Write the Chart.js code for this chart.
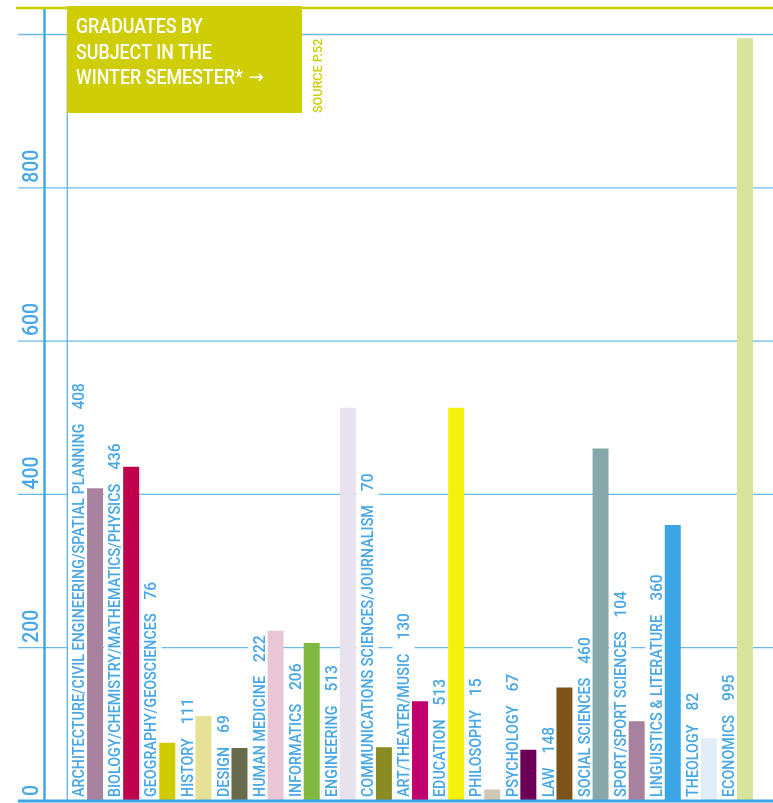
<!DOCTYPE html>
<html>
<head>
<meta charset="utf-8">
<script src="https://cdn.jsdelivr.net/npm/chart.js@4.4.1/dist/chart.umd.min.js"></script>
<style>
  html, body { margin: 0; padding: 0; background: #ffffff; }
  canvas { display: block; }
</style>
</head>
<body>
<canvas id="gradChart" width="773" height="803"></canvas>
<script>
// subjects, left to right
const subjects = [
    'ARCHITECTURE/CIVIL ENGINEERING/SPATIAL PLANNING',
    'BIOLOGY/CHEMISTRY/MATHEMATICS/PHYSICS',
    'GEOGRAPHY/GEOSCIENCES',
    'HISTORY',
    'DESIGN',
    'HUMAN MEDICINE',
    'INFORMATICS',
    'ENGINEERING',
    'COMMUNICATIONS SCIENCES/JOURNALISM',
    'ART/THEATER/MUSIC',
    'EDUCATION',
    'PHILOSOPHY',
    'PSYCHOLOGY',
    'LAW',
    'SOCIAL SCIENCES',
    'SPORT/SPORT SCIENCES',
    'LINGUISTICS & LITERATURE',
    'THEOLOGY',
    'ECONOMICS'
];
const graduates = [408, 436, 76, 111, 69, 222, 206, 513, 70, 130, 513, 15, 67, 148, 460, 104, 360, 82, 995];
const barColors = [
    '#a8819f', '#c0004a', '#cfcb00', '#e6e197', '#676b4c',
    '#e9c6d6', '#80b93f', '#e8e2ee', '#8a8b22', '#c0006e',
    '#f5f00c', '#d0c7b9', '#6c0058', '#7c5419', '#87a8aa',
    '#a8819f', '#3aa6e6', '#e1edf9', '#d8e49c'
];
const yTicks = [0, 200, 400, 600, 800];
const gridValues = [200, 400, 600, 800, 1000];
const titleLines = ['GRADUATES BY', 'SUBJECT IN THE', 'WINTER SEMESTER*'];
const sourceNote = 'SOURCE P.52';

const BLUE = '#3ea5e6';
const TEXT_BLUE = '#48a7e7';
const GRID = '#6cb9ec';
const OLIVE = '#cfcd06';

// draw rotated text reading bottom to top, compressed horizontally
function upText(ctx, text, x, y, sx) {
    ctx.save();
    ctx.translate(x, y);
    ctx.rotate(-Math.PI / 2);
    ctx.scale(sx, 1);
    ctx.fillText(text, 0, 0);
    ctx.restore();
}

const decorations = {
    id: 'decorations',
    beforeDatasetsDraw(chart) {
        const ctx = chart.ctx;
        const y = chart.scales.y;
        const W = chart.width;
        ctx.save();
        // horizontal grid
        ctx.strokeStyle = GRID;
        ctx.lineWidth = 1.3;
        gridValues.forEach(v => {
            const py = y.getPixelForValue(v);
            ctx.beginPath();
            ctx.moveTo(18, py);
            ctx.lineTo(W, py);
            ctx.stroke();
        });

        // category labels beside each bar
        const meta = chart.getDatasetMeta(1);
        const base = y.getPixelForValue(0) - 4;
        ctx.font = '500 16px Roboto';
        ctx.textAlign = 'left';
        ctx.textBaseline = 'alphabetic';
        const nameScale = 0.895;
        meta.data.forEach((bar, i) => {
            const name = subjects[i];
            const val = String(graduates[i]);
            const nameW = ctx.measureText(name).width * nameScale;
            const valW = ctx.measureText(val).width * 0.97;
            const gap = 14;
            const total = nameW + gap + valW;
            const cx = bar.x - 16.5;
            // white backing that breaks the grid lines
            ctx.fillStyle = '#ffffff';
            ctx.fillRect(cx - 11, base - total - 5, 22, total + 5);
            ctx.fillStyle = TEXT_BLUE;
            upText(ctx, name, cx + 5.7, base, nameScale);
            upText(ctx, val, cx + 5.7, base - nameW - gap, 0.97);
        });
        ctx.restore();
    },
    afterDatasetsDraw(chart) {
        const ctx = chart.ctx;
        const y = chart.scales.y;
        const W = chart.width;
        const zero = y.getPixelForValue(0);
        ctx.save();

        // thin inner axis
        ctx.strokeStyle = '#5fb3ea';
        ctx.lineWidth = 1.3;
        ctx.beginPath();
        ctx.moveTo(67.3, y.getPixelForValue(1000));
        ctx.lineTo(67.3, zero);
        ctx.stroke();

        // thick outer axis
        ctx.strokeStyle = BLUE;
        ctx.lineWidth = 2.4;
        ctx.beginPath();
        ctx.moveTo(44.5, 9);
        ctx.lineTo(44.5, zero);
        ctx.stroke();

        // baseline
        ctx.lineWidth = 3;
        ctx.beginPath();
        ctx.moveTo(18, zero);
        ctx.lineTo(W, zero);
        ctx.stroke();

        // top rule
        ctx.strokeStyle = OLIVE;
        ctx.lineWidth = 2.6;
        ctx.beginPath();
        ctx.moveTo(16, 8);
        ctx.lineTo(W, 8);
        ctx.stroke();

        // y tick labels
        ctx.fillStyle = TEXT_BLUE;
        ctx.font = '500 22px Roboto';
        ctx.textAlign = 'left';
        ctx.textBaseline = 'alphabetic';
        yTicks.forEach(v => {
            upText(ctx, String(v), 38.3, y.getPixelForValue(v) - 5, 0.88);
        });

        // title box
        ctx.fillStyle = OLIVE;
        ctx.fillRect(67, 6, 235, 107);
        ctx.fillStyle = '#ffffff';
        ctx.font = '500 20px Roboto';
        let lastW = 0;
        titleLines.forEach((line, i) => {
            ctx.save();
            ctx.translate(76, 33 + i * 25.5);
            ctx.scale(0.89, 1);
            ctx.fillText(line, 0, 0);
            ctx.restore();
            lastW = ctx.measureText(line).width * 0.89;
        });
        // arrow after the last line
        ctx.font = '18px "DejaVu Sans"';
        ctx.fillText('\u2192', 76 + lastW + 6, 33 + 2 * 25.5 - 1);

        // source note
        ctx.fillStyle = OLIVE;
        ctx.font = '500 13.5px Roboto';
        upText(ctx, sourceNote, 321.8, 113, 0.93);
        ctx.restore();
    }
};

new Chart(document.getElementById('gradChart'), {
    type: 'bar',
    data: {
        labels: subjects,
        datasets: [{
            data: subjects.map(() => null),
            backgroundColor: 'rgba(0,0,0,0)',
            categoryPercentage: 1,
            barPercentage: 0.886
        }, {
            data: graduates,
            backgroundColor: barColors,
            categoryPercentage: 1,
            barPercentage: 0.886
        }]
    },
    options: {
        responsive: false,
        animation: false,
        devicePixelRatio: 1,
        layout: {
            padding: { left: 68, right: 19, top: 34.5, bottom: 2 }
        },
        scales: {
            x: { display: false },
            y: { display: false, min: 0, max: 1000 }
        },
        plugins: {
            legend: { display: false },
            tooltip: { enabled: false }
        }
    },
    plugins: [decorations]
});
</script>
</body>
</html>
